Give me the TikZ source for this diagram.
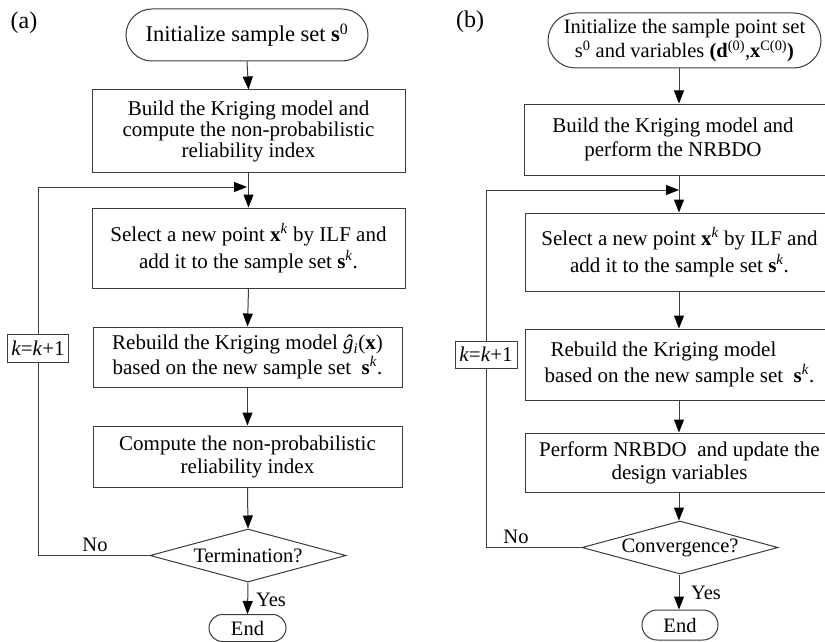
\documentclass[tikz,border=0pt]{standalone}
\usepackage{fontspec}
\setmainfont{Liberation Serif}
\usetikzlibrary{arrows.meta,shapes.geometric,shapes.misc}
\definecolor{linecol}{RGB}{60,60,60}
\tikzset{
  fs/.style={font=\fontsize{#1}{#1}\selectfont},
  boxA/.style={draw=linecol, line width=1pt, rectangle, align=center, inner sep=0pt},
  termA/.style={draw=linecol, line width=1pt, rounded rectangle, align=center, inner sep=0pt},
  decA/.style={draw=linecol, line width=1pt, diamond, aspect=3.7, inner sep=0pt},
  arr/.style={draw=linecol, line width=1pt, -{Triangle[length=13pt,width=10pt,color=black]}},
  ln/.style={draw=linecol, line width=1pt},
  lbl/.style={inner sep=0pt, font=\fontsize{21}{21}\selectfont},
}
\begin{document}
\begin{tikzpicture}[x=1pt,y=-1pt]
\useasboundingbox (0,0) rectangle (825,642);
\clip (0,0) rectangle (825,642);
\fill[white] (0,0) rectangle (825,642);

% ---------------- panel (a) ----------------
\node[lbl, font=\fontsize{24}{24}\selectfont] (labA) at (24,23) {(a)};
\node[termA, fs=22.5, minimum width=242, minimum height=52] (a1) at (247,35)
  {Initialize sample set \textbf{s}\textsuperscript{0}};
\node[boxA, fs=21, minimum width=313, minimum height=82] (a2) at (248.5,131)
  {Build the Kriging model and\\[0pt]compute the non-probabilistic\\reliability index};
\node[boxA, fs=21, minimum width=313, minimum height=80] (a3) at (248.5,248)
  {Select a new point \textbf{x}\textsuperscript{\textit{k}} by ILF and\\[4pt]add it to the sample set \textbf{s}\textsuperscript{\textit{k}}.};
\node[boxA, fs=21, minimum width=309, minimum height=60] (a4) at (247.5,357)
  {Rebuild the Kriging model \textit{ĝ}\textsubscript{\textit{i}}(\textbf{x})\\[1pt]based on the new sample set \ \textbf{s}\textsuperscript{\textit{k}}.};
\node[boxA, fs=21, minimum width=309, minimum height=61] (a5) at (247.5,456.5)
  {Compute the non-probabilistic\\[2pt]reliability index};
\node[decA, fs=20.5, minimum width=196, minimum height=53] (a6) at (248,555.5) {Termination?};
\node[termA, fs=20.5, minimum width=77, minimum height=27] (a7) at (247.5,628) {End};
\coordinate (ja) at (247,187);
\node[boxA, fill=white, fs=21, minimum width=61, minimum height=28, line width=0.8pt] (ka) at (38,348)
  {\textit{k}=\textit{k}+1};

\draw[arr] (a1.south) -- (a2.north);
\draw[arr] (a2.south) -- (a3.north);
\draw[arr] (a3.south) -- (a4.north);
\draw[arr] (a4.south) -- (a5.north);
\draw[arr] (a5.south) -- (a6.north);
\draw[arr] (a6.south) -- (a7.north);
\draw[ln] (a6.west) -| (ka.south);
\draw[arr] (ka.north) |- (ja);
\node[lbl, fs=20.5] (noa) at (95,545) {No};
\node[lbl, fs=20.5] (yesa) at (271,600) {Yes};

% ---------------- panel (b) ----------------
\node[lbl, font=\fontsize{24}{24}\selectfont] (labB) at (470,22) {(b)};
\node[termA, fs=20.5, minimum width=273, minimum height=55] (b1) at (684.5,40.5)
  {Initialize the sample point set\\[2pt]s\textsuperscript{0} and variables \textbf{(d}\textsuperscript{(0)},\textbf{x}\textsuperscript{C(0)}\textbf{)}};
\node[boxA, fs=21, minimum width=310, minimum height=71] (b2) at (679,139.5)
  {\hspace*{-12pt}Build the Kriging model and\\[3pt]\hspace*{-12pt}perform the NRBDO};
\node[boxA, fs=21, minimum width=309, minimum height=78] (b3) at (679.5,252)
  {Select a new point \textbf{x}\textsuperscript{\textit{k}} by ILF and\\[4pt]add it to the sample set \textbf{s}\textsuperscript{\textit{k}}.};
\node[boxA, fs=21, minimum width=309, minimum height=71, align=left] (b4) at (679.5,364.5)
  {\hspace*{6pt}Rebuild the Kriging model\\[2pt]based on the new sample set \ \textbf{s}\textsuperscript{\textit{k}}.};
\node[boxA, fs=21, minimum width=309, minimum height=59] (b5) at (679.5,462.5)
  {Perform NRBDO \ and update the\\[2pt]design variables};
\node[decA, fs=20.5, minimum width=196, minimum height=53] (b6) at (680,547.5) {Convergence?};
\node[termA, fs=20.5, minimum width=76, minimum height=30] (b7) at (680,625) {End};
\coordinate (jb) at (679,190);
\node[boxA, fill=white, fs=21, minimum width=62, minimum height=27, line width=0.8pt] (kb) at (486,354.5)
  {\textit{k}=\textit{k}+1};

\draw[arr] (b1.south -| jb) -- (b2.north -| jb);
\draw[arr] (b2.south -| jb) -- (b3.north -| jb);
\draw[arr] (b3.south -| jb) -- (b4.north -| jb);
\draw[arr] (b4.south -| jb) -- (b5.north -| jb);
\draw[arr] (b5.south -| jb) -- (b6.north -| jb);
\draw[arr] (b6.south -| jb) -- (b7.north -| jb);
\draw[ln] (b6.west) -| (kb.south);
\draw[arr] (kb.north) |- (jb);
\node[lbl, fs=20.5] (nob) at (516,537) {No};
\node[lbl, fs=20.5] (yesb) at (706,593) {Yes};
\end{tikzpicture}
\end{document}
